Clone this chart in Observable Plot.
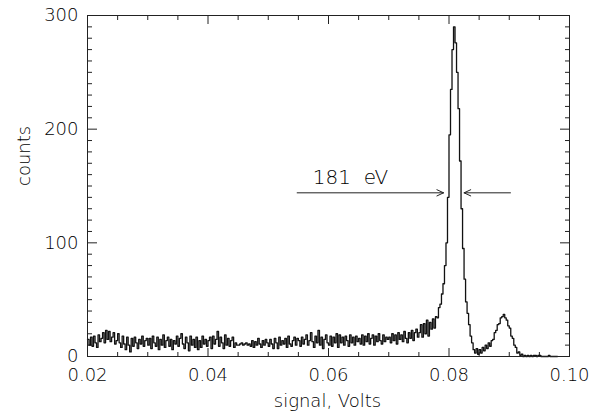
<!DOCTYPE html>
<html><head><meta charset="utf-8">
<script src="https://cdn.jsdelivr.net/npm/d3@7"></script>
<script src="https://cdn.jsdelivr.net/npm/@observablehq/plot@0.6"></script>
<style>body{margin:0;background:#fff} svg{display:block}</style>
</head><body><div id="chart"></div>
<script>
// histogram: bins of width 0.00025 V starting at 0.02 V
const binStart = 0.02;
const binWidth = 0.00025;
const counts = [
  // 0.020-0.025
  15,10,17,9,18,12,8,19,13,16,21,12,23,15,22,13,17,21,11,14,
  // 0.025-0.030
  20,12,8,18,11,6,17,10,4,16,9,17,12,7,15,11,18,9,14,16,
  // 0.030-0.035
  10,16,7,18,12,9,17,6,15,10,19,8,14,17,9,15,6,14,11,18,
  // 0.035-0.040
  9,16,20,11,7,17,12,5,18,10,15,8,17,6,14,8,18,11,15,9,
  // 0.040-0.045
  14,17,7,18,11,15,22,9,17,12,7,19,10,16,9,14,17,8,12,10,
  // 0.045-0.050
  10,11,12,10,11,12,10,11,9,14,8,13,10,16,11,8,14,10,15,12,
  // 0.050-0.055
  9,15,11,7,16,12,7,17,10,14,11,16,8,18,11,9,14,17,10,16,
  // 0.055-0.060
  14,9,17,11,15,19,10,14,21,13,8,18,12,23,10,17,7,15,19,12,
  // 0.060-0.065
  10,18,9,17,12,20,8,19,12,17,10,18,14,9,19,12,17,10,18,13,
  // 0.065-0.070
  16,11,19,10,18,13,20,11,16,19,10,18,13,20,14,11,19,13,17,15,
  // 0.070-0.075
  17,12,20,14,19,11,21,15,19,13,22,16,12,21,16,23,14,21,24,17,
  // 0.075-0.077
  21,28,17,29,20,32,18,30,
  // 0.077 onwards: main peak
  24,33,25,35,34,43,46,55,64,80,100,140,195,235,270,290,276,250,218,172,
  130,95,68,48,38,28,18,12,6,3,7,2,6,3,8,5,10,7,12,9,
  // second peak
  14,15,21,23,28,29,34,35,37,34,32,27,25,18,16,10,8,3,4,1,
  2,0,1,0,1,0,1,0,1,1,0,1,1,0,0,0,0,0,1,0,0,0,0,0
];

const xMajorTicks = [0.02, 0.04, 0.06, 0.08, 0.10];
const xMinorTicks = [0.025, 0.03, 0.035, 0.045, 0.05, 0.055, 0.065, 0.07, 0.075, 0.085, 0.09, 0.095];
const yMajorTicks = [0, 100, 200, 300];
const yMinorTicks = [10,20,30,40,50,60,70,80,90,110,120,130,140,150,160,170,180,190,210,220,230,240,250,260,270,280,290];

const xLabel = "signal, Volts";
const yLabel = "counts";

const noteLabel = ["181\u00a0\u00a0eV"];
const noteX = [0.0574];
const noteY = [152];
const arrowFrom = [0.0548, 0.0902];
const arrowTo = [0.0791, 0.0825];
const arrowY = [144, 144];

const data = counts.map((c, i) => ({x: binStart + i * binWidth, y: c}));
data.push({x: binStart + counts.length * binWidth, y: counts[counts.length - 1]});

const notes = noteLabel.map((t, i) => ({t, x: noteX[i], y: noteY[i]}));
const arrows = arrowFrom.map((x1, i) => ({x1, x2: arrowTo[i], y: arrowY[i]}));

const ink = "#000";

const chart = Plot.plot({
  width: 603,
  height: 417,
  marginLeft: 87,
  marginRight: 34,
  marginTop: 15,
  marginBottom: 61,
  style: {fontFamily: "DejaVu Sans", fontSize: "18px", fontWeight: 200, color: ink, background: "#fff"},
  x: {domain: [0.02, 0.10]},
  y: {domain: [0, 300]},
  marks: [
    Plot.axisX(xMinorTicks, {anchor: "bottom", tickSize: -4, text: null, label: null, stroke: "#222"}),
    Plot.axisX(xMinorTicks, {anchor: "top", tickSize: -4, text: null, label: null, stroke: "#222"}),
    Plot.axisX(xMajorTicks, {anchor: "bottom", tickSize: -8, text: null, label: null, stroke: "#222"}),
    Plot.axisX(xMajorTicks, {anchor: "top", tickSize: -8, text: null, label: null, stroke: "#222"}),
    Plot.axisX(xMajorTicks, {anchor: "bottom", tickSize: 0, tickPadding: 12, tickFormat: d3.format(".2f"), label: null, fill: ink}),
    Plot.axisY(yMinorTicks, {anchor: "left", tickSize: -5, text: null, label: null, stroke: "#222"}),
    Plot.axisY(yMinorTicks, {anchor: "right", tickSize: -5, text: null, label: null, stroke: "#222"}),
    Plot.axisY(yMajorTicks, {anchor: "left", tickSize: -10, text: null, label: null, stroke: "#222"}),
    Plot.axisY(yMajorTicks, {anchor: "right", tickSize: -10, text: null, label: null, stroke: "#222"}),
    Plot.axisY(yMajorTicks, {anchor: "left", tickSize: 0, tickPadding: 9, label: null, fill: ink}),
    Plot.text([xLabel], {frameAnchor: "bottom", text: d => d, lineAnchor: "bottom", dy: 50, dx: -1, fill: ink}),
    Plot.text([yLabel], {frameAnchor: "left", text: d => d, lineAnchor: "bottom", rotate: -90, dx: -58, fill: ink}),
    Plot.lineY(data, {x: "x", y: "y", curve: "step-after", stroke: "#111", strokeWidth: 1.3}),
    Plot.text(notes, {x: "x", y: "y", text: "t", textAnchor: "start", lineAnchor: "bottom", fontSize: 20, fill: ink}),
    Plot.arrow(arrows, {x1: "x1", x2: "x2", y1: "y", y2: "y", headLength: 11, headAngle: 50, stroke: "#222", strokeWidth: 1}),
    Plot.frame({stroke: "#222", strokeWidth: 1})
  ]
});
document.getElementById("chart").appendChild(chart);
</script>
</body></html>
